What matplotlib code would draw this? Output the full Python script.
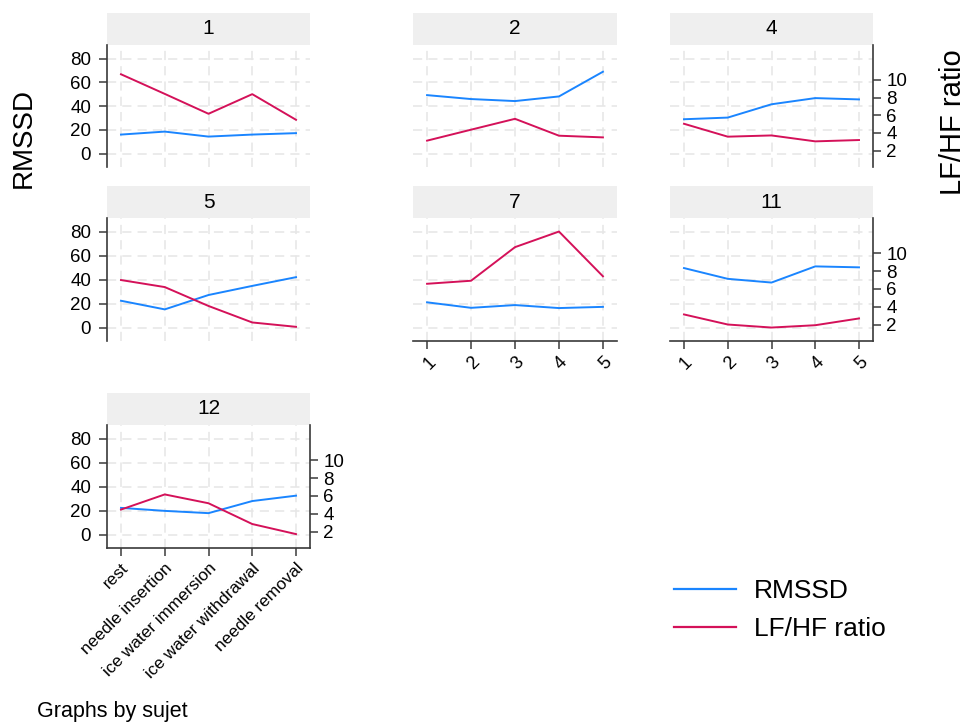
import matplotlib.pyplot as plt
from matplotlib.lines import Line2D

plt.rcParams['font.family'] = ['Liberation Sans', 'DejaVu Sans']

# data
phases = ["rest", "needle insertion", "ice water immersion", "ice water withdrawal", "needle removal"]
x = [1, 2, 3, 4, 5]

rmssd_1 = [16.1, 18.6, 14.4, 16.1, 17.3]
rmssd_2 = [49.3, 46.0, 44.3, 48.2, 69.0]
rmssd_4 = [29.0, 30.4, 41.6, 46.8, 45.7]
rmssd_5 = [22.4, 15.2, 27.2, 34.8, 42.1]
rmssd_7 = [21.1, 16.5, 18.8, 16.3, 17.3]
rmssd_11 = [49.7, 40.7, 37.6, 51.1, 50.3]
rmssd_12 = [22.3, 19.8, 17.9, 28.0, 32.5]

lfhf_1 = [10.64, 8.42, 6.17, 8.39, 5.49]
lfhf_2 = [3.13, 4.37, 5.60, 3.69, 3.50]
lfhf_4 = [5.04, 3.58, 3.72, 3.05, 3.20]
lfhf_5 = [6.99, 6.20, 4.08, 2.23, 1.74]
lfhf_7 = [6.57, 6.91, 10.68, 12.43, 7.41]
lfhf_11 = [3.13, 2.00, 1.66, 1.92, 2.68]
lfhf_12 = [4.46, 6.16, 5.17, 2.84, 1.71]

blue = "#1a85ff"
red = "#d41159"
axcol = "#3a3a3a"
W, H = 966, 724


def box(x0, y0, x1, y1):
    return [x0 / W, 1 - y1 / H, (x1 - x0) / W, (y1 - y0) / H]


cols = [(107, 310), (413, 617), (670, 873)]
rows = [(13, 45, 167), (186, 218, 341), (393, 425, 548)]

# subject, row, col, rmssd, lfhf, left axis, right axis, bottom axis ("num"/"text"/None)
panels = [
    ("1", 0, 0, rmssd_1, lfhf_1, True, False, None),
    ("2", 0, 1, rmssd_2, lfhf_2, False, False, None),
    ("4", 0, 2, rmssd_4, lfhf_4, False, True, None),
    ("5", 1, 0, rmssd_5, lfhf_5, True, False, None),
    ("7", 1, 1, rmssd_7, lfhf_7, False, False, "num"),
    ("11", 1, 2, rmssd_11, lfhf_11, False, True, "num"),
    ("12", 2, 0, rmssd_12, lfhf_12, True, True, "text"),
]

fig = plt.figure(figsize=(W / 100, H / 100), dpi=100)

for name, r, c, rm, lf, show_left, show_right, bottom in panels:
    x0, x1 = cols[c]
    s0, p0, p1 = rows[r]

    # strip with subject number
    st = fig.add_axes(box(x0, s0, x1, p0))
    st.set_facecolor("#efefef")
    st.set_xticks([])
    st.set_yticks([])
    for sp in st.spines.values():
        sp.set_visible(False)
    st.text(0.5, 0.5, name, ha="center", va="center", fontsize=15, transform=st.transAxes)

    ax = fig.add_axes(box(x0, p0, x1, p1))
    ax2 = ax.twinx()
    ax.set_xlim(0.68, 5.32)
    ax.set_ylim(-11.2, 91.5)
    ax2.set_ylim(0.15, 13.95)
    ax.set_xticks(x)
    ax.set_yticks([0, 20, 40, 60, 80])
    ax2.set_yticks([2, 4, 6, 8, 10])
    ax.grid(True, color="#e6e6e6", linestyle=(0, (6, 4)), linewidth=1.1)
    ax.set_axisbelow(True)

    ax.plot(x, rm, color=blue, linewidth=1.4, zorder=3)
    ax2.plot(x, lf, color=red, linewidth=1.4, zorder=3)

    for a in (ax, ax2):
        for sp in a.spines.values():
            sp.set_visible(False)
            sp.set_color(axcol)
            sp.set_linewidth(1.2)
        a.tick_params(colors=axcol, labelcolor="black", width=1.1, length=6, labelsize=13.5)

    ax.spines["left"].set_visible(show_left)
    ax.tick_params(axis="y", left=show_left, labelleft=show_left, pad=5.5)
    ax2.spines["right"].set_visible(show_right)
    ax2.tick_params(axis="y", right=show_right, labelright=show_right, pad=3.5)

    if bottom is None:
        ax.tick_params(axis="x", bottom=False, labelbottom=False)
    else:
        ax.spines["bottom"].set_visible(True)
        if bottom == "num":
            ax.set_xticklabels([str(v) for v in x], rotation=45, ha="right",
                               rotation_mode="anchor", fontsize=13)
        else:
            ax.set_xticklabels(phases, rotation=45, ha="right", rotation_mode="anchor",
                               fontsize=12.3)
        ax.tick_params(axis="x", pad=3)

fig.text(24 / W, 1 - 138 / H, "RMSSD", rotation=90, ha="center", va="center", fontsize=20)
fig.text(953 / W, 1 - 122 / H, "LF/HF ratio", rotation=90, ha="center", va="center", fontsize=21)
fig.text(37 / W, 1 - 712 / H, "Graphs by sujet", ha="left", va="center", fontsize=15.5)

handles = [Line2D([], [], color=blue, linewidth=1.6), Line2D([], [], color=red, linewidth=1.6)]
fig.legend(handles, ["RMSSD", "LF/HF ratio"], loc="center left",
           bbox_to_anchor=(650 / W, 1 - 610 / H), frameon=False, fontsize=19,
           handlelength=2.35, handletextpad=0.68, labelspacing=0.55)

fig.savefig("out.png", dpi=100, facecolor="white")
